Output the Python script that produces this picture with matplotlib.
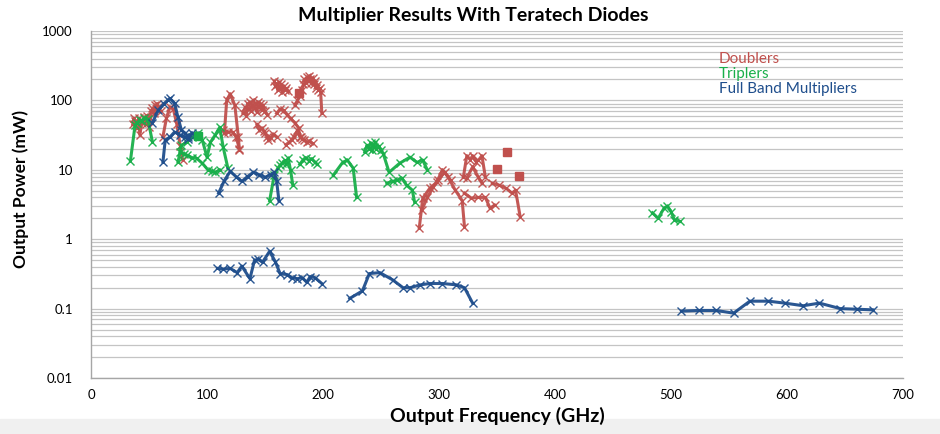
import matplotlib
matplotlib.use("Agg")
import matplotlib.pyplot as plt
from matplotlib.ticker import FixedLocator, NullFormatter, LogLocator

plt.rcParams['font.family'] = ['Lato', 'DejaVu Sans']

# ---------------- Data (GHz, mW) ----------------
# Doublers
dbl_f1 = [36, 37, 38, 40, 41, 42, 44, 46, 47, 48, 50, 51, 52, 53, 54, 55, 56, 57, 58, 60]
dbl_p1 = [45, 55, 50, 40, 55, 32, 48, 57, 45, 60, 41, 55, 70, 77, 65, 85, 75, 90, 80, 70]
dbl_f2 = [62, 65, 68, 71, 74, 77, 79]
dbl_p2 = [30, 55, 80, 75, 45, 22, 14]
dbl_f3 = [115, 117, 120, 124, 127, 128]
dbl_p3 = [34, 100, 125, 85, 30, 19]
dbl_f3b = [114, 118, 122, 125, 128]
dbl_p3b = [37, 35, 35, 30, 20]
dbl_f4 = [131, 133, 134, 135, 136, 137, 138, 139, 140, 141, 142, 143, 144, 145,
          146, 147, 148, 150, 152]
dbl_p4 = [65, 80, 60, 90, 75, 95, 70, 85, 100, 78, 90, 68, 95, 80, 88, 72, 85, 70, 62]
dbl_f5 = [143, 145, 147, 149, 150, 152, 153, 155, 157, 160]
dbl_p5 = [45, 38, 40, 36, 34, 30, 27, 29, 33, 30]
dbl_f6 = [160, 163, 166, 169, 172, 176, 179, 180, 182, 184, 186, 188, 191]
dbl_p6 = [65, 75, 72, 62, 55, 47, 40, 30, 28, 27, 25, 26, 24]
dbl_f6b = [168, 171, 173, 175, 178, 181]
dbl_p6b = [23, 25, 27, 30, 37, 30]
dbl_f7 = [158, 159, 160, 161, 162, 163, 164, 165, 166, 167, 168, 170]
dbl_p7 = [190, 160, 175, 140, 185, 150, 170, 130, 160, 140, 150, 135]
dbl_f7b = [176, 178, 180, 182, 183, 184, 185, 186, 187, 188, 189, 190, 191, 192,
           193, 194, 195, 196, 197, 198, 199]
dbl_p7b = [85, 100, 115, 140, 170, 200, 180, 215, 190, 225, 200, 180, 210, 170,
           190, 150, 165, 140, 150, 130, 65]
dbl_f8 = [283, 286, 292, 298, 303, 308, 314, 320, 322]
dbl_p8 = [1.45, 3.9, 5.4, 6.6, 10, 7.8, 5.1, 3.6, 1.5]
dbl_f8b = [285, 290, 295, 299, 305, 310]
dbl_p8b = [2.6, 4.0, 5.6, 7.1, 9.2, 7.1]
dbl_f9 = [322, 328, 334, 340, 344, 348]
dbl_p9 = [4.6, 3.9, 4.0, 4.0, 2.8, 3.1]
dbl_f10 = [321, 324, 327, 329, 332, 334, 337, 340]
dbl_p10 = [7.8, 16, 14, 16, 13, 13.7, 16, 7.8]
dbl_f10b = [324, 329, 334, 337]
dbl_p10b = [7.6, 11, 7.8, 6.4]
dbl_f11 = [346, 352, 358, 363, 366, 370]
dbl_p11 = [6.4, 6.0, 5.4, 4.6, 5.1, 2.1]
dbl_sq_f = [179, 359, 350, 369]
dbl_sq_p = [127, 18, 10.2, 8.1]

# Triplers
trp_f1 = [34, 38, 40, 42, 44, 46, 49, 53]
trp_p1 = [13.5, 44, 48, 52, 50, 55, 54, 25]
trp_f2 = [75, 78, 83, 87, 92, 96, 100, 103, 107, 111, 114, 118]
trp_p2 = [12.9, 22.6, 25, 29.5, 33.6, 26.8, 15.2, 25, 31.6, 41, 21, 10.6]
trp_f3 = [77, 80, 83, 87, 91, 96, 101, 104, 107, 111]
trp_p3 = [17.9, 17, 16.2, 15, 14.7, 12.4, 9.9, 9.5, 9.2, 9.9]
trp_f4 = [154, 158, 161, 163, 165, 167, 168, 170, 172, 174]
trp_p4 = [3.6, 8.4, 10.5, 11.7, 12.5, 13.7, 12, 14.7, 9.9, 6.0]
trp_f5 = [180, 183, 185, 188, 190, 193, 195]
trp_p5 = [12, 14, 15, 13.5, 14.5, 13, 12]
trp_f6 = [209, 217, 221, 226, 229]
trp_p6 = [8.4, 12.8, 13.8, 10.6, 4.0]
trp_f7 = [236, 238, 240, 241, 242, 243, 244, 245, 246, 248, 250, 252, 257, 266,
          275, 281, 286, 290]
trp_p7 = [18, 22.6, 20, 24, 19, 23, 21, 25, 20, 22, 19, 17, 9.2, 12.4,
          15.2, 12.8, 13.8, 9.9]
trp_f8 = [255, 260, 264, 268, 272, 277, 279]
trp_p8 = [6.4, 6.8, 7.1, 7.6, 6.0, 5.1, 3.4]
trp_f9 = [484, 489, 494, 497, 500, 503, 508]
trp_p9 = [2.4, 2.0, 2.8, 3.0, 2.5, 1.9, 1.8]
trp_sq_f = [92]
trp_sq_p = [31]

# Full band multipliers
fbm_f1 = [53, 58, 63, 66, 68, 72, 75, 78, 81, 84, 87, 90]
fbm_p1 = [48, 72, 90, 100, 107, 91, 57, 37, 34, 30, 34, 31.6]
fbm_f2 = [62, 64, 68, 72, 77, 81, 84]
fbm_p2 = [12.9, 26.8, 29.5, 35, 31.6, 29.5, 28]
fbm_f3 = [110, 115, 120, 125, 130, 135, 140, 145, 150, 155, 158, 160, 162]
fbm_p3 = [4.6, 7, 9.5, 8, 6.8, 8, 9.2, 8.5, 7.8, 8.5, 9.2, 7, 3.6]
fbm_f4 = [109, 114, 120, 126, 130, 137, 141, 144, 148, 154, 159, 163, 169,
          173, 178, 182, 186, 189, 193, 199]
fbm_p4 = [0.38, 0.37, 0.38, 0.33, 0.41, 0.27, 0.5, 0.51, 0.47, 0.67, 0.47,
          0.32, 0.31, 0.28, 0.27, 0.28, 0.24, 0.29, 0.28, 0.23]
fbm_f5 = [223, 234, 240, 249, 260, 269, 275, 284, 292, 303, 315, 322, 329]
fbm_p5 = [0.14, 0.18, 0.32, 0.33, 0.26, 0.2, 0.2, 0.22, 0.23, 0.23, 0.22,
          0.2, 0.12]
fbm_f6 = [509, 524, 539, 554, 568, 584, 598, 614, 628, 646, 660, 674]
fbm_p6 = [0.092, 0.094, 0.094, 0.086, 0.128, 0.128, 0.12, 0.11, 0.12,
          0.1, 0.098, 0.096]

RED = '#C0504D'
GREEN = '#19AF4A'
BLUE = '#1F4E8C'

series = [
    (RED, [(dbl_f1, dbl_p1), (dbl_f2, dbl_p2), (dbl_f3, dbl_p3), (dbl_f3b, dbl_p3b),
           (dbl_f4, dbl_p4), (dbl_f5, dbl_p5), (dbl_f6, dbl_p6), (dbl_f6b, dbl_p6b),
           (dbl_f7, dbl_p7), (dbl_f7b, dbl_p7b), (dbl_f8, dbl_p8), (dbl_f8b, dbl_p8b),
           (dbl_f9, dbl_p9), (dbl_f10, dbl_p10), (dbl_f10b, dbl_p10b), (dbl_f11, dbl_p11)]),
    (GREEN, [(trp_f1, trp_p1), (trp_f2, trp_p2), (trp_f3, trp_p3), (trp_f4, trp_p4),
             (trp_f5, trp_p5), (trp_f6, trp_p6), (trp_f7, trp_p7), (trp_f8, trp_p8),
             (trp_f9, trp_p9)]),
    (BLUE, [(fbm_f1, fbm_p1), (fbm_f2, fbm_p2), (fbm_f3, fbm_p3), (fbm_f4, fbm_p4),
            (fbm_f5, fbm_p5), (fbm_f6, fbm_p6)]),
]

fig = plt.figure(figsize=(9.4, 4.34), dpi=100)
fig.patches.append(plt.Rectangle((0, 0), 1, 0.035, transform=fig.transFigure,
                                 color='#f0f0f0', zorder=-10))
ax = fig.add_axes([0.0968, 0.129, 0.8638, 0.7996])

ax.set_yscale('log')
ax.set_ylim(0.01, 1000)
ax.set_xlim(0, 700)

for color, segs in series:
    for f, p in segs:
        ax.plot(f, p, color=color, lw=2.2, marker='x', ms=6, mew=1.0,
                mec=color, alpha=0.95, zorder=3)

ax.plot(dbl_sq_f, dbl_sq_p, ls='none', marker='s', ms=6, color=RED, zorder=4)
ax.plot(trp_sq_f, trp_sq_p, ls='none', marker='s', ms=6, color=GREEN, zorder=4)

# grid
ax.yaxis.set_major_locator(FixedLocator([0.01, 0.1, 1, 10, 100, 1000]))
ax.set_yticklabels(['0.01', '0.1', '1', '10', '100', '1000'])
ax.yaxis.set_minor_locator(LogLocator(base=10, subs=range(2, 10)))
ax.yaxis.set_minor_formatter(NullFormatter())
ax.grid(True, which='both', axis='y', color='#c4c4c4', lw=0.9)
ax.set_axisbelow(True)
ax.tick_params(axis='y', which='both', length=0, labelsize=9.5, pad=13)
ax.tick_params(axis='x', length=0, labelsize=9.5, pad=8)
ax.set_xticks(range(0, 701, 100))

for s in ['top', 'right']:
    ax.spines[s].set_visible(False)
for s in ['left', 'bottom']:
    ax.spines[s].set_color('#a6a6a6')
    ax.spines[s].set_linewidth(1.0)

ax.set_xlabel('Output Frequency (GHz)', fontsize=14, fontweight='bold', labelpad=4)
ax.set_ylabel('Output Power (mW)', fontsize=12.5, fontweight='bold')
ax.yaxis.set_label_coords(-0.076, 0.545)
fig.text(0.503, 0.985, 'Multiplier Results With Teratech Diodes', ha='center',
         va='top', fontsize=14, fontweight='bold')

# legend (text only)
ax.text(0.773, 0.918, 'Doublers', color=RED, fontsize=11, transform=ax.transAxes, va='center')
ax.text(0.773, 0.876, 'Triplers', color=GREEN, fontsize=11, transform=ax.transAxes, va='center')
ax.text(0.773, 0.834, 'Full Band Multipliers', color=BLUE, fontsize=11,
        transform=ax.transAxes, va='center')

fig.savefig('out.png', dpi=100)
